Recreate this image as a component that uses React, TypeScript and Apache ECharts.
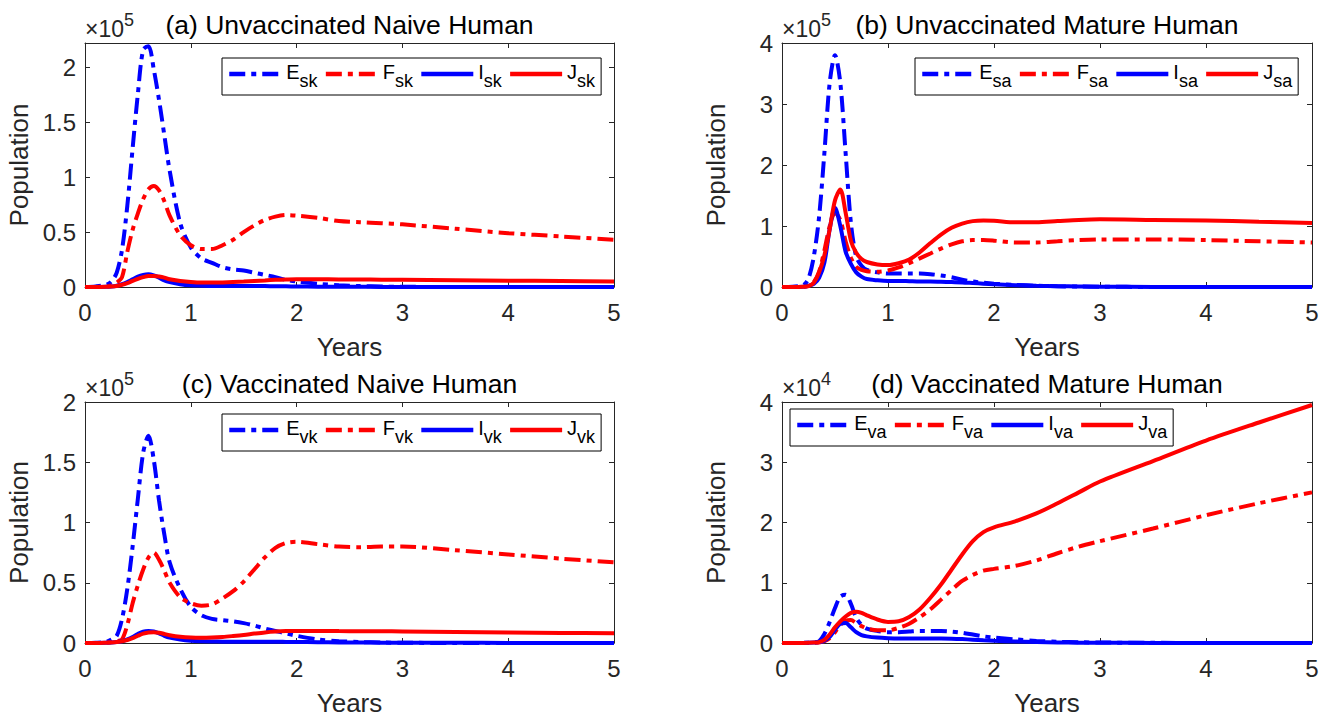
import React, { useEffect, useRef } from "react";
import * as echarts from "echarts";

// time (years)
const T = [0, 0.1, 0.2, 0.25, 0.3, 0.35, 0.4, 0.45, 0.5, 0.55, 0.6, 0.65, 0.7, 0.75, 0.8, 0.9, 1.0, 1.1, 1.2, 1.3, 1.4, 1.5, 1.6, 1.7, 1.8, 1.9, 2.0, 2.2, 2.4, 2.6, 2.8, 3.0, 3.5, 4.0, 4.5, 5.0];

// (a) Unvaccinated Naive Human, units of 1e5
const E_sk = [0, 0.005, 0.02, 0.05, 0.13, 0.34, 0.74, 1.26, 1.76, 2.16, 2.19, 1.98, 1.7, 1.38, 1.06, 0.58, 0.36, 0.26, 0.22, 0.18, 0.16, 0.15, 0.13, 0.11, 0.09, 0.065, 0.05, 0.03, 0.015, 0.008, 0.004, 0.002, 0, 0, 0, 0];
const F_sk = [0, 0, 0.005, 0.015, 0.04, 0.09, 0.32, 0.52, 0.67, 0.8, 0.89, 0.92, 0.88, 0.78, 0.65, 0.47, 0.38, 0.345, 0.345, 0.38, 0.43, 0.5, 0.56, 0.61, 0.64, 0.655, 0.65, 0.63, 0.6, 0.59, 0.58, 0.57, 0.53, 0.49, 0.46, 0.43];
const I_sk = [0, 0, 0.002, 0.005, 0.012, 0.025, 0.045, 0.07, 0.095, 0.11, 0.115, 0.105, 0.085, 0.06, 0.045, 0.025, 0.015, 0.012, 0.01, 0.01, 0.01, 0.01, 0.009, 0.008, 0.007, 0.006, 0.005, 0.003, 0.002, 0.002, 0.001, 0.001, 0, 0, 0, 0];
const J_sk = [0, 0, 0.002, 0.005, 0.01, 0.02, 0.035, 0.055, 0.075, 0.09, 0.1, 0.1, 0.095, 0.085, 0.07, 0.055, 0.045, 0.04, 0.04, 0.042, 0.046, 0.05, 0.055, 0.06, 0.065, 0.068, 0.07, 0.07, 0.069, 0.068, 0.067, 0.066, 0.062, 0.058, 0.054, 0.05];

// (b) Unvaccinated Mature Human, units of 1e5
const E_sa = [0, 0.005, 0.03, 0.14, 0.5, 1.15, 2.2, 3.35, 3.8, 3.35, 2.2, 1.05, 0.5, 0.35, 0.28, 0.24, 0.22, 0.22, 0.22, 0.22, 0.21, 0.19, 0.16, 0.12, 0.09, 0.07, 0.055, 0.035, 0.02, 0.012, 0.007, 0.004, 0.001, 0, 0, 0];
const F_sa = [0, 0, 0.005, 0.02, 0.08, 0.25, 0.6, 1.0, 1.22, 1.1, 0.75, 0.48, 0.33, 0.28, 0.26, 0.25, 0.27, 0.32, 0.39, 0.47, 0.55, 0.63, 0.7, 0.75, 0.77, 0.77, 0.76, 0.73, 0.73, 0.75, 0.77, 0.78, 0.78, 0.77, 0.75, 0.73];
const I_sa = [0, 0, 0.005, 0.02, 0.05, 0.15, 0.4, 0.95, 1.3, 1.0, 0.58, 0.38, 0.24, 0.17, 0.13, 0.11, 0.1, 0.1, 0.095, 0.09, 0.09, 0.085, 0.08, 0.075, 0.065, 0.055, 0.045, 0.03, 0.02, 0.013, 0.008, 0.005, 0.002, 0.001, 0, 0];
const J_sa = [0, 0, 0.005, 0.015, 0.07, 0.24, 0.52, 0.95, 1.42, 1.6, 1.22, 0.76, 0.56, 0.46, 0.41, 0.37, 0.36, 0.39, 0.45, 0.57, 0.72, 0.86, 0.97, 1.04, 1.08, 1.09, 1.085, 1.06, 1.06, 1.08, 1.1, 1.11, 1.1, 1.09, 1.07, 1.05];

// (c) Vaccinated Naive Human, units of 1e5
const E_vk = [0, 0.002, 0.01, 0.03, 0.06, 0.2, 0.45, 0.8, 1.2, 1.58, 1.72, 1.52, 1.18, 0.9, 0.67, 0.45, 0.3, 0.23, 0.2, 0.19, 0.18, 0.165, 0.145, 0.12, 0.1, 0.08, 0.06, 0.03, 0.015, 0.008, 0.004, 0.002, 0, 0, 0, 0];
const F_vk = [0, 0, 0.003, 0.008, 0.015, 0.03, 0.15, 0.33, 0.48, 0.61, 0.71, 0.75, 0.69, 0.6, 0.5, 0.38, 0.33, 0.31, 0.32, 0.37, 0.43, 0.51, 0.61, 0.71, 0.79, 0.83, 0.84, 0.82, 0.8, 0.795, 0.8, 0.8, 0.77, 0.735, 0.7, 0.67];
const I_vk = [0, 0, 0.002, 0.004, 0.008, 0.015, 0.03, 0.05, 0.075, 0.095, 0.1, 0.095, 0.08, 0.06, 0.045, 0.028, 0.018, 0.014, 0.012, 0.011, 0.01, 0.01, 0.01, 0.01, 0.01, 0.009, 0.008, 0.007, 0.005, 0.004, 0.003, 0.003, 0.002, 0.001, 0.001, 0.001];
const J_vk = [0, 0, 0.002, 0.004, 0.008, 0.015, 0.025, 0.04, 0.06, 0.078, 0.088, 0.09, 0.085, 0.075, 0.065, 0.052, 0.045, 0.043, 0.045, 0.05, 0.058, 0.067, 0.078, 0.088, 0.095, 0.099, 0.1, 0.1, 0.099, 0.098, 0.097, 0.096, 0.092, 0.088, 0.084, 0.08];

// (d) Vaccinated Mature Human, units of 1e4
const E_va = [0, 0, 0.002, 0.005, 0.01, 0.03, 0.15, 0.35, 0.58, 0.77, 0.8, 0.65, 0.42, 0.3, 0.24, 0.2, 0.18, 0.18, 0.19, 0.2, 0.2, 0.2, 0.19, 0.17, 0.14, 0.11, 0.09, 0.06, 0.035, 0.02, 0.012, 0.008, 0.003, 0.001, 0, 0];
const F_va = [0, 0, 0, 0.002, 0.005, 0.01, 0.03, 0.08, 0.18, 0.3, 0.37, 0.38, 0.33, 0.28, 0.24, 0.21, 0.21, 0.25, 0.32, 0.43, 0.56, 0.72, 0.88, 1.03, 1.13, 1.2, 1.23, 1.28, 1.37, 1.49, 1.6, 1.69, 1.9, 2.12, 2.32, 2.5];
const I_va = [0, 0, 0.001, 0.003, 0.007, 0.015, 0.04, 0.1, 0.22, 0.32, 0.33, 0.26, 0.18, 0.13, 0.11, 0.09, 0.08, 0.075, 0.075, 0.075, 0.075, 0.075, 0.072, 0.065, 0.055, 0.045, 0.037, 0.025, 0.015, 0.01, 0.006, 0.004, 0.001, 0, 0, 0];
const J_va = [0, 0, 0.001, 0.003, 0.007, 0.015, 0.05, 0.14, 0.26, 0.36, 0.44, 0.5, 0.52, 0.5, 0.46, 0.39, 0.35, 0.36, 0.43, 0.56, 0.75, 0.97, 1.22, 1.47, 1.69, 1.84, 1.92, 2.02, 2.15, 2.32, 2.5, 2.68, 3.02, 3.36, 3.66, 3.95];

const TITLES = ["(a) Unvaccinated Naive Human", "(b) Unvaccinated Mature Human", "(c) Vaccinated Naive Human", "(d) Vaccinated Mature Human"];
const SUBS = ["sk", "sa", "vk", "va"];
const EXPONENTS = ["5", "5", "5", "4"];
const Y_MAX = [2.22, 4, 2, 4];
const Y_INTERVAL = [0.5, 1, 0.5, 1];
const X_TICKS = [0, 1, 2, 3, 4, 5];
const PANEL_DATA = [
  [E_sk, F_sk, I_sk, J_sk],
  [E_sa, F_sa, I_sa, J_sa],
  [E_vk, F_vk, I_vk, J_vk],
  [E_va, F_va, I_va, J_va],
];
const LETTERS = ["E", "F", "I", "J"];

// layout
const GRIDS = [
  { left: 85, top: 43, width: 529, height: 244 },
  { left: 782, top: 43, width: 530, height: 244 },
  { left: 85, top: 402, width: 529, height: 242 },
  { left: 782, top: 402, width: 530, height: 242 },
];
const LEGEND_POS = [
  { left: 222, top: 58 },
  { left: 915, top: 58 },
  { left: 222, top: 414 },
  { left: 790, top: 409 },
];

const FONT = "'Liberation Sans', Arial, Helvetica, sans-serif";
const AX = "#262626";
const COLORS = ["#0000ff", "#ff0000", "#0000ff", "#ff0000"];
const DASHED = [true, true, false, false];
const DASH_DOT = [16, 6, 5, 6];

function buildOption() {
  const grid: any[] = [];
  const xAxis: any[] = [];
  const yAxis: any[] = [];
  const series: any[] = [];
  const legend: any[] = [];
  const graphic: any[] = [];

  GRIDS.forEach((g, p) => {
    grid.push({ ...g, containLabel: false });
    const tick = { show: true, inside: true, length: 5, lineStyle: { color: AX, width: 1 } };
    const line = { show: true, onZero: false, lineStyle: { color: AX, width: 1 } };
    xAxis.push({
      type: "value", gridIndex: p, min: X_TICKS[0], max: X_TICKS[X_TICKS.length - 1], interval: 1,
      position: "bottom", axisLine: line, axisTick: tick, splitLine: { show: false },
      axisLabel: { fontSize: 24, color: AX, fontFamily: FONT, margin: 13 },
      name: "Years", nameLocation: "middle", nameGap: 47,
      nameTextStyle: { fontSize: 26, color: AX, fontFamily: FONT },
    });
    xAxis.push({
      type: "value", gridIndex: p, min: 0, max: 5, interval: 1, position: "top",
      axisLine: line, axisTick: tick, axisLabel: { show: false }, splitLine: { show: false },
    });
    const yi = Y_INTERVAL[p];
    yAxis.push({
      type: "value", gridIndex: p, min: 0, max: Y_MAX[p], interval: yi, position: "left",
      axisLine: line, axisTick: tick, splitLine: { show: false },
      axisLabel: {
        fontSize: 24, color: AX, fontFamily: FONT, margin: 9,
        formatter: (v: number) => (Math.abs(v / yi - Math.round(v / yi)) < 1e-6 ? String(Math.round(v * 10) / 10) : ""),
      },
      name: "Population", nameLocation: "middle", nameGap: 53, nameRotate: 90,
      nameTextStyle: { fontSize: 26, color: AX, fontFamily: FONT },
    });
    yAxis.push({
      type: "value", gridIndex: p, min: 0, max: Y_MAX[p], interval: yi, position: "right",
      axisLine: line, axisTick: tick, axisLabel: { show: false }, splitLine: { show: false },
    });

    const names: string[] = [];
    PANEL_DATA[p].forEach((arr, k) => {
      const name = LETTERS[k] + "_" + SUBS[p];
      names.push(name);
      series.push({
        type: "line", name, xAxisIndex: p * 2, yAxisIndex: p * 2,
        data: T.map((t, i) => [t, arr[i]]),
        symbol: "none", showSymbol: false, smooth: 0.3, clip: true,
        lineStyle: { color: COLORS[k], width: 4, type: DASHED[k] ? DASH_DOT : "solid", cap: "butt" },
        itemStyle: { color: COLORS[k] },
        z: 2 + k,
      });
    });

    legend.push({
      ...LEGEND_POS[p], orient: "horizontal", data: names, selectedMode: false,
      itemWidth: 52, itemHeight: 14, itemGap: 6, padding: [4, 6, 5, 5],
      borderColor: "#000", borderWidth: 1, backgroundColor: "#fff",
      itemStyle: { opacity: 0, borderWidth: 0 },
      lineStyle: { width: 4.5 },
      formatter: (n: string) => { const [m, s] = n.split("_"); return `{m|${m}}{s|${s}}`; },
      textStyle: {
        fontFamily: FONT, color: "#000", fontSize: 20,
        rich: {
          m: { fontSize: 20, fontFamily: FONT, color: "#000", padding: [0, 0, 4, 0] },
          s: { fontSize: 18, fontFamily: FONT, color: "#000", padding: [14, 0, 0, 0] },
        },
      },
    });

    const cx = g.left + g.width / 2;
    graphic.push({
      type: "text", x: cx, y: g.top - 18,
      style: { text: TITLES[p], fontSize: 26.5, fontFamily: FONT, fill: "#000", textAlign: "center", textVerticalAlign: "middle" },
    });
    graphic.push({
      type: "text", x: g.left, y: g.top - 36,
      style: {
        text: `{a|\u00d710}{b|${EXPONENTS[p]}}`, fontFamily: FONT,
        rich: {
          a: { fontSize: 23, fontFamily: FONT, fill: AX, padding: [10, 0, 0, 0] },
          b: { fontSize: 18, fontFamily: FONT, fill: AX, padding: [0, 0, 8, 0] },
        },
      },
    });
  });

  return { animation: false, backgroundColor: "#fff", grid, xAxis, yAxis, series, legend, graphic };
}

export default function App() {
  const ref = useRef<HTMLDivElement>(null);
  useEffect(() => {
    document.body.style.margin = "0";
    const chart = echarts.init(ref.current!, null, { renderer: "svg" });
    chart.setOption(buildOption() as any);
    return () => chart.dispose();
  }, []);
  return <div ref={ref} style={{ width: 1326, height: 717, background: "#fff" }} />;
}
